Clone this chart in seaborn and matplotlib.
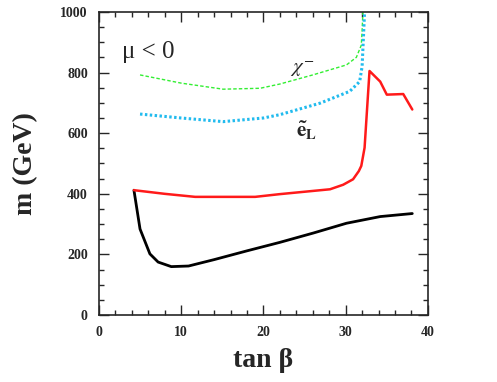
import pandas as pd
import seaborn as sns
import matplotlib.pyplot as plt

# curves (tan beta, m in GeV)
black_tb = [4.26, 5.0, 6.2, 7.2, 8.8, 10.9, 14.0, 18.0, 22.0, 26.1, 30.1, 34.2, 38.1]
black_m = [412, 284, 202, 175, 160, 162, 183, 212, 240, 271, 303, 325, 335]

red_tb = [4.26, 8.0, 11.7, 19.0, 22.0, 28.1, 29.7, 30.9, 31.6, 31.9, 32.3, 32.9, 34.2, 35.0, 37.0, 38.1]
red_m = [412, 400, 390, 390, 399, 415, 430, 448, 475, 492, 552, 805, 770, 727, 729, 678]

chi_tb = [5.0, 10.0, 15.1, 19.6, 22.0, 26.0, 30.1, 31.3, 31.9, 32.0, 32.1]
chi_m = [792, 765, 745, 748, 762, 792, 825, 850, 890, 940, 1000]

sel_tb = [5.0, 10.0, 15.1, 20.0, 22.0, 26.9, 30.5, 31.7, 32.0, 32.1, 32.3]
sel_m = [663, 650, 638, 650, 661, 699, 738, 770, 820, 880, 1000]

sns.set_style("ticks")
plt.rcParams['font.family'] = ['Liberation Serif', 'DejaVu Serif']
plt.rcParams['mathtext.fontset'] = 'stix'

fig = plt.figure(figsize=(4.97, 3.82), dpi=100)
ax = fig.add_axes([0.199, 0.175, 0.662, 0.794])

def curve(tb, m):
    return pd.DataFrame({'tb': tb, 'm': m})

sns.lineplot(data=curve(black_tb, black_m), x='tb', y='m', sort=False, color='black', lw=2.0, ax=ax)
sns.lineplot(data=curve(red_tb, red_m), x='tb', y='m', sort=False, color='#ff1a1a', lw=1.8, ax=ax)
sns.lineplot(data=curve(chi_tb, chi_m), x='tb', y='m', sort=False, color='#33ee33', lw=1.0,
             linestyle=(0, (2.5, 1.5)), ax=ax)
sns.lineplot(data=curve(sel_tb, sel_m), x='tb', y='m', sort=False, color='#22bbee', lw=2.2,
             linestyle=(0, (0.8, 0.8)), ax=ax)

ax.set_xlim(0, 40)
ax.set_ylim(0, 1000)
ax.set_xticks([0, 10, 20, 30, 40])
ax.set_yticks([0, 200, 400, 600, 800, 1000])
ax.set_xticks(range(0, 41, 2), minor=True)
ax.set_yticks(range(0, 1001, 50), minor=True)
ax.tick_params(which='both', direction='in', top=True, right=True, width=1.0)
ax.tick_params(which='major', length=7, labelsize=10, pad=8)
ax.tick_params(which='minor', length=3.5)
for lab in ax.get_xticklabels() + ax.get_yticklabels():
    lab.set_fontweight('bold')
for s in ax.spines.values():
    s.set_linewidth(1.2)

ax.set_xlabel('tan β', fontsize=20, fontweight='bold', labelpad=6)
ax.set_ylabel('m (GeV)', fontsize=20, fontweight='bold', labelpad=16)

ax.text(2.8, 866, 'μ < 0', fontsize=18, va='center')
ax.text(23.2, 812, r'$\chi^{-}$', fontsize=15, va='center')
ax.text(24.0, 607, r'$\mathbf{\tilde{e}_L}$', fontsize=15, va='center')

fig.savefig('out.png', dpi=100)
